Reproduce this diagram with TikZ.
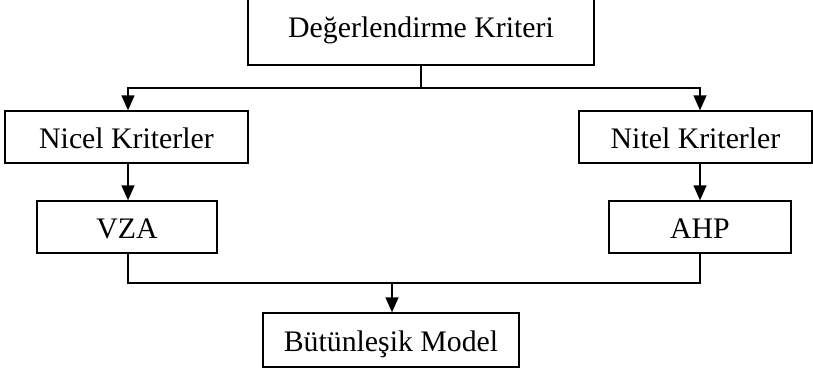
\documentclass[tikz,border=0pt]{standalone}
\usepackage{fontspec}
\setmainfont{Liberation Serif}
\usetikzlibrary{positioning,arrows.meta}

\begin{document}
\begin{tikzpicture}[x=1pt,y=-1pt,line width=1.3pt,
  >={Triangle[length=15pt,width=13pt]},
  every node/.style={font=\fontsize{29.8}{32}\selectfont},
  kutu/.style={draw,inner sep=0pt,text height=22pt,text depth=0pt,minimum height=52}]
\useasboundingbox (0,0) rectangle (813,372);
\node (kriter) [kutu,minimum width=346,minimum height=78] at (421,26) {Değerlendirme Kriteri};
\node (nicel) [kutu,minimum width=243] at (126.5,137) {Nicel Kriterler};
\node (nitel) [kutu,minimum width=233] at (695.5,137) {Nitel Kriterler};
\node (vza) [kutu,minimum width=180] at (127,227) {VZA};
\node (ahp) [kutu,minimum width=182] at (700,227) {AHP};
\node (model) [kutu,minimum width=256,minimum height=54] at (391,340) {Bütünleşik Model};
\coordinate (ayrim) at (421,88);
\coordinate (sol) at (128,88);
\coordinate (sag) at (700,88);
\coordinate (birlesim) at (392,283);
\draw (kriter.south) -- (ayrim);
\draw[->] (ayrim) -| (sol |- nicel.north);
\draw[->] (ayrim) -| (sag |- nitel.north);
\draw[->] (sol |- nicel.south) -- (sol |- vza.north);
\draw[->] (sag |- nitel.south) -- (sag |- ahp.north);
\draw (sol |- vza.south) |- (birlesim) -| (sag |- ahp.south);
\draw[->] (birlesim) -- (birlesim |- model.north);
\end{tikzpicture}
\end{document}
